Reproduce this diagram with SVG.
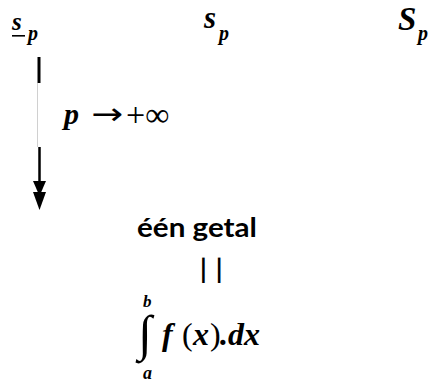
<svg xmlns="http://www.w3.org/2000/svg" width="429" height="382" viewBox="0 0 429 382">
<style>
.m{font-family:"Liberation Serif","Times New Roman",serif;font-weight:bold;font-style:italic;fill:#000}
.r{font-family:"Liberation Serif","Times New Roman",serif;font-weight:normal;font-style:normal;fill:#000}
.t{font-family:Lato,"Open Sans","Liberation Sans",sans-serif;font-weight:bold;fill:#000}
</style>
<rect width="429" height="382" fill="#fff"/>
<g id="lower-sum">
<text class="m" x="12" y="30" font-size="25">s</text>
<rect x="12" y="35" width="13" height="1.6" fill="#000"/>
<text class="m" x="28" y="40" font-size="20">p</text>
</g>
<g id="sum">
<text class="m" x="204" y="28" font-size="31">s</text>
<text class="m" x="219" y="40" font-size="20">p</text>
</g>
<g id="upper-sum">
<text class="m" x="398" y="30" font-size="33">S</text>
<text class="m" x="418" y="40" font-size="20">p</text>
</g>
<g id="connectors">
<line x1="39" y1="57" x2="39" y2="83" stroke="#000" stroke-width="3"/>
<line x1="37.5" y1="83" x2="37.5" y2="147" stroke="#d0d0d0" stroke-width="1"/>
<line x1="39.5" y1="147" x2="39.5" y2="184" stroke="#000" stroke-width="2.5"/>
<polygon points="33,181 46,181 39.5,196" fill="#000"/>
<polygon points="33,192 46,192 39.5,210" fill="#000"/>
</g>
<g id="limit-label">
<text class="m" x="64" y="124" font-size="30">p</text>
<text x="91" y="124" font-size="30" font-family="'DejaVu Sans',sans-serif" textLength="32" lengthAdjust="spacingAndGlyphs">→</text>
<text class="r" x="126" y="126" font-size="34">+∞</text>
</g>
<g id="number">
<text class="t" x="137" y="237" font-size="27" textLength="120" lengthAdjust="spacingAndGlyphs">één getal</text>
</g>
<g id="equals">
<text class="t" x="200" y="279" font-size="26" letter-spacing="9">||</text>
</g>
<g id="integral">
<text class="m" x="143" y="307" font-size="17">b</text>
<text class="r" x="138" y="350" font-size="50">∫</text>
<text class="m" x="143" y="379" font-size="18">a</text>
<text y="345" font-size="32"><tspan class="m" x="162">f</tspan><tspan class="r" x="182">(</tspan><tspan class="m" x="193">x</tspan><tspan class="r" x="210">)</tspan><tspan class="m" x="220">.dx</tspan></text>
</g>
</svg>
